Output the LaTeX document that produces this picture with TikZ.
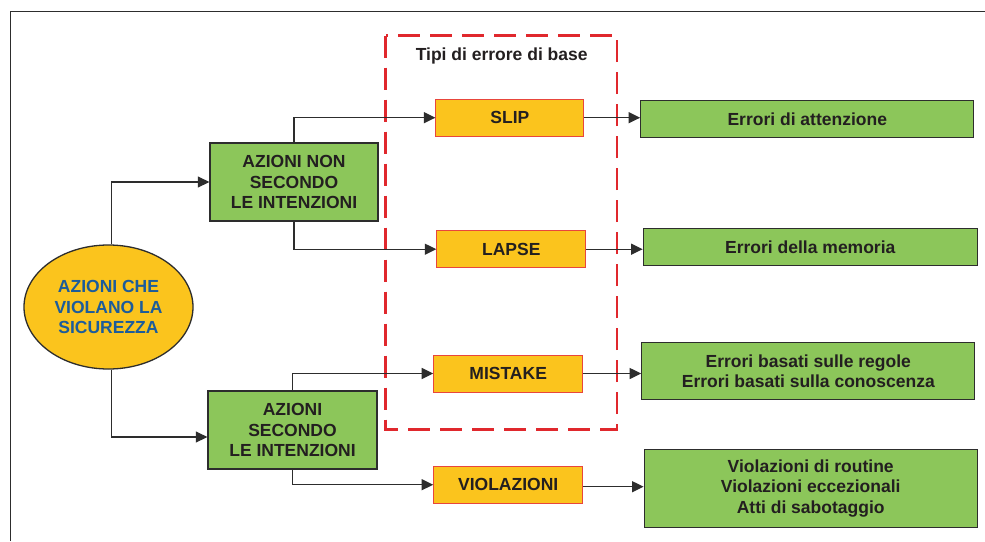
\documentclass[tikz,border=0pt]{standalone}
\usepackage{fontspec}
\setmainfont{Liberation Sans}
\usetikzlibrary{arrows.meta,calc,shapes.geometric}
\definecolor{gfill}{RGB}{140,198,90}
\definecolor{ofill}{RGB}{251,196,29}
\definecolor{oline}{RGB}{232,70,60}
\definecolor{rdash}{RGB}{224,40,45}
\definecolor{bluetxt}{RGB}{28,92,155}
\definecolor{darktxt}{RGB}{35,31,32}
\definecolor{edgecol}{RGB}{45,45,45}
\begin{document}
\begin{tikzpicture}[x=1pt,y=-1pt,
  txt/.style={font=\fontsize{17.5}{20.5}\selectfont\bfseries, text=darktxt, align=center},
  gbox/.style={txt, draw=edgecol, line width=1.3pt, fill=gfill, inner sep=0pt},
  obox/.style={txt, draw=oline, line width=1pt, fill=ofill, inner sep=0pt, minimum width=149pt, minimum height=37pt},
  arr/.style={draw=edgecol, line width=1.2pt, -{Triangle[length=11.5pt,width=11pt]}},
  redbox/.style={draw=rdash, line width=2.6pt, dash pattern=on 22pt off 10pt},
  framecol/.style={draw=edgecol, line width=1.2pt}
]
\useasboundingbox (0,0) rectangle (985,541);
\fill[white] (0,0) rectangle (985,541);
% outer frame (only top and left edges visible)
\draw[framecol] (10.5,541) -- (10.5,11.5) -- (985,11.5);

% dashed group
\draw[redbox] (385.7,35.7) rectangle (617,429.3);
\node[txt] (title) at (501.7,56) {Tipi di errore di base};

% main ellipse
\node[ellipse, draw=edgecol, line width=1.3pt, fill=ofill, inner sep=0pt,
      minimum width=169pt, minimum height=124pt,
      font=\fontsize{17.5}{20.5}\selectfont\bfseries, text=bluetxt, align=center]
      (ell) at (108.5,307) {AZIONI CHE\\VIOLANO LA\\SICUREZZA};

% second level
\node[gbox, minimum width=168pt, minimum height=78pt] (b1) at (294,182)
  {AZIONI NON\\SECONDO\\LE INTENZIONI};
\node[gbox, minimum width=169pt, minimum height=78pt] (b2) at (292.5,430)
  {AZIONI\\SECONDO\\LE INTENZIONI};

% basic error types
\node[obox, minimum width=148pt] (slip)  at (509.9,117.7) {SLIP};
\node[obox] (lapse) at (511.3,249.2) {LAPSE};
\node[obox] (mist)  at (508.2,373.5) {MISTAKE};
\node[obox] (viol)  at (508.2,484.7) {VIOLAZIONI};

% results
\node[gbox, minimum width=333pt, minimum height=36.6pt] (e1) at (807.3,119) {Errori di attenzione};
\node[gbox, minimum width=334pt, minimum height=36.6pt] (e2) at (810.3,247) {Errori della memoria};
\node[gbox, minimum width=333pt, minimum height=57pt] (e3) at (808.3,371.3)
  {Errori basati sulle regole\\Errori basati sulla conoscenza};
\node[gbox, minimum width=333pt, minimum height=78pt] (e4) at (810.7,488.2)
  {Violazioni di routine\\Violazioni eccezionali\\Atti di sabotaggio};

% connectors
\draw[arr] ([xshift=3pt]ell.north) |- (b1.west);
\draw[arr] ([xshift=3pt]ell.south) |- ([yshift=-7pt]b2.west);
\draw[arr] (b1.north) |- (slip.west);
\draw[arr] (b1.south) |- (lapse.west);
\draw[arr] (b2.north) |- (mist.west);
\draw[arr] (b2.south) |- (viol.west);
\draw[arr] (slip.east) -- (slip.east -| e1.west);
\draw[arr] (lapse.east) -- (lapse.east -| e2.west);
\draw[arr] (mist.east) -- (mist.east -| e3.west);
\draw[arr] ([yshift=-2pt]viol.east) -- ([yshift=-2pt]viol.east -| e4.west);
\end{tikzpicture}
\end{document}
